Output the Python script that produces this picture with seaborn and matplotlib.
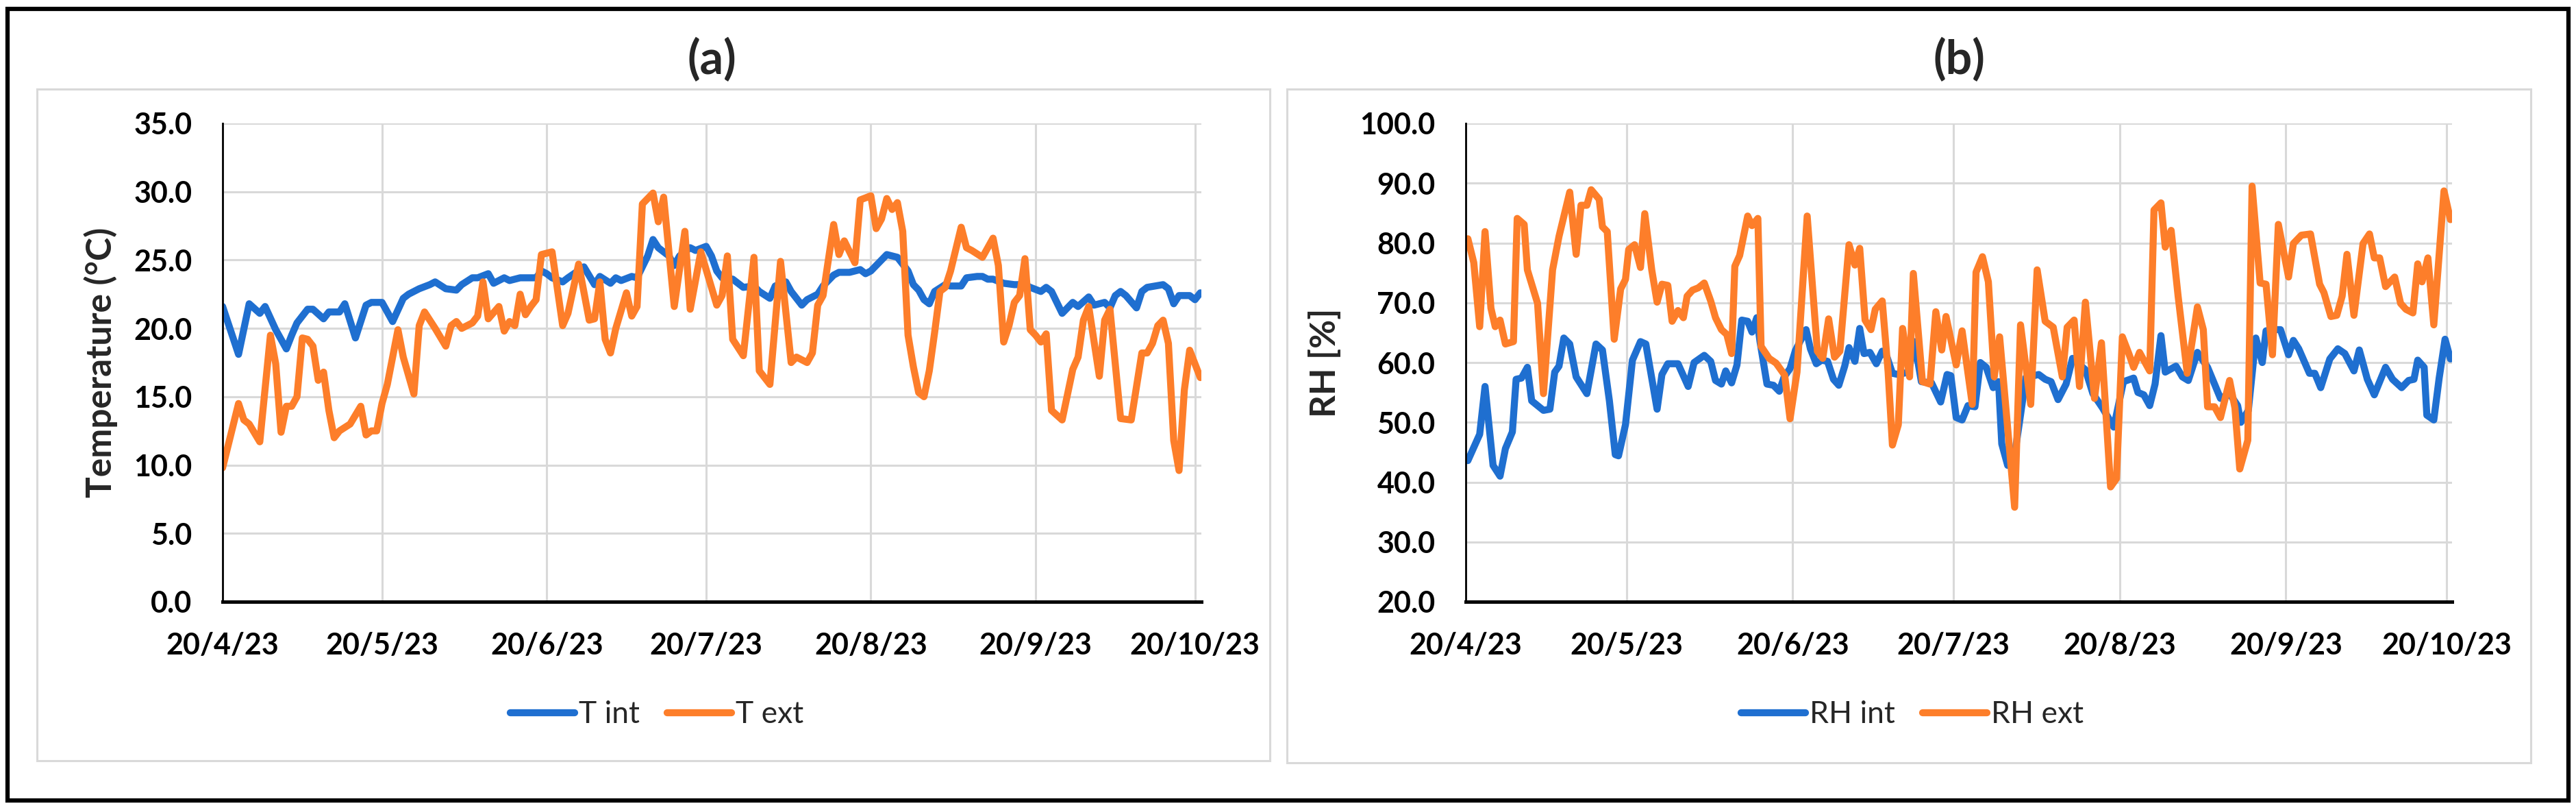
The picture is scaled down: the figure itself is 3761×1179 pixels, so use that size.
import numpy as np
import pandas as pd
import matplotlib
matplotlib.use("Agg")
import matplotlib.pyplot as plt
import seaborn as sns
from matplotlib.patches import Rectangle
from matplotlib.lines import Line2D

# Datos (día = días desde 20/4/23)
fecha_inicio = "20/4/23"
etiquetas_x = ["20/4/23", "20/5/23", "20/6/23", "20/7/23", "20/8/23", "20/9/23", "20/10/23"]

t_int_dia = [0, 3, 5, 7, 8, 10, 12, 13, 14, 16, 17, 19, 20, 22, 23, 25, 27, 28, 30, 32,
             34, 35, 37, 39, 40, 42, 44, 45, 47, 48, 50, 51, 53, 54, 56, 57, 59, 60, 61, 62,
             64, 65, 68, 70, 71, 73, 74, 75, 77, 78, 80, 81, 82, 84, 85, 86, 88, 89, 91, 92,
             93, 94, 96, 98, 100, 101, 103, 104, 106, 107, 109, 110, 112, 113, 115, 116, 118, 120, 121, 122,
             123, 125, 126, 127, 129, 130, 131, 132, 133, 134, 136, 137, 139, 140, 142, 143, 144, 145, 147, 149,
             151, 152, 154, 155, 156, 158, 160, 161, 163, 164, 166, 167, 168, 169, 170, 172, 173, 174, 177, 178,
             179, 180, 182, 183, 184]
t_int = [21.6, 18.1, 21.8, 21.1, 21.6, 19.9, 18.5, 19.5, 20.4, 21.4, 21.4, 20.7, 21.2, 21.2, 21.8, 19.3, 21.7, 21.9, 21.9, 20.5,
         22.2, 22.5, 22.9, 23.2, 23.4, 22.9, 22.8, 23.2, 23.7, 23.7, 24.0, 23.3, 23.7, 23.5, 23.7, 23.7, 23.7, 24.2, 24.0, 23.7,
         23.4, 23.7, 24.5, 23.2, 23.8, 23.3, 23.7, 23.5, 23.8, 23.7, 25.3, 26.5, 25.9, 25.3, 24.6, 25.3, 25.9, 25.7, 26.0, 25.3,
         24.2, 23.7, 23.6, 23.0, 23.1, 22.7, 22.2, 23.1, 23.4, 22.7, 21.7, 22.1, 22.5, 23.1, 23.9, 24.1, 24.1, 24.3, 24.0, 24.2,
         24.6, 25.4, 25.3, 25.2, 24.2, 23.2, 22.8, 22.1, 21.8, 22.7, 23.2, 23.1, 23.1, 23.7, 23.8, 23.8, 23.6, 23.6, 23.3, 23.2,
         23.2, 23.0, 22.7, 23.0, 22.7, 21.1, 21.9, 21.6, 22.3, 21.7, 21.9, 21.5, 22.4, 22.7, 22.4, 21.5, 22.7, 23.0, 23.2, 22.9,
         21.8, 22.4, 22.4, 22.1, 22.6]

t_ext_dia = [0, 3, 4, 5, 7, 9, 10, 11, 12, 13, 14, 15, 16, 17, 18, 19, 20, 21, 22, 24,
             26, 27, 28, 29, 30, 31, 33, 34, 36, 37, 38, 40, 42, 43, 44, 45, 47, 48, 49, 50,
             52, 53, 54, 55, 56, 57, 58, 59, 60, 62, 64, 65, 67, 69, 70, 71, 72, 73, 74, 76,
             77, 78, 79, 81, 82, 83, 85, 87, 88, 90, 93, 94, 95, 96, 98, 100, 101, 103, 105, 107,
             108, 110, 111, 112, 113, 115, 116, 117, 119, 120, 122, 123, 124, 125, 126, 127, 128, 129, 130, 131,
             132, 133, 134, 135, 136, 137, 139, 140, 141, 143, 145, 146, 147, 148, 149, 150, 151, 152, 153, 154,
             155, 156, 158, 160, 161, 162, 163, 165, 166, 167, 169, 171, 173, 174, 175, 176, 177, 178, 179, 180,
             181, 182, 183, 184]
t_ext = [9.8, 14.5, 13.3, 13.0, 11.7, 19.5, 17.4, 12.4, 14.3, 14.3, 15.0, 19.3, 19.2, 18.7, 16.2, 16.8, 14.0, 12.0, 12.5, 13.0,
         14.3, 12.2, 12.5, 12.5, 14.5, 15.9, 19.9, 17.9, 15.2, 20.2, 21.2, 20.0, 18.7, 20.2, 20.5, 20.0, 20.4, 20.9, 23.4, 20.7,
         21.6, 19.8, 20.5, 20.2, 22.5, 21.0, 21.6, 22.1, 25.4, 25.6, 20.2, 21.1, 24.7, 20.6, 20.7, 23.4, 19.2, 18.2, 20.0, 22.6,
         20.9, 21.6, 29.1, 29.9, 27.8, 29.6, 21.6, 27.1, 21.4, 25.6, 21.7, 22.4, 25.3, 19.2, 18.0, 25.2, 16.9, 15.9, 24.9, 17.5,
         17.9, 17.5, 18.2, 21.7, 22.4, 27.6, 25.4, 26.4, 24.8, 29.4, 29.7, 27.3, 28.0, 29.5, 28.7, 29.2, 27.1, 19.5, 17.2, 15.3,
         15.0, 16.9, 19.7, 22.7, 23.0, 24.2, 27.4, 25.9, 25.7, 25.2, 26.6, 24.6, 19.0, 20.2, 21.9, 22.4, 25.1, 19.9, 19.5, 19.0,
         19.6, 14.0, 13.3, 17.0, 17.9, 20.6, 21.6, 16.5, 20.6, 21.4, 13.4, 13.3, 18.2, 18.2, 18.9, 20.2, 20.6, 18.9, 11.8, 9.6,
         15.5, 18.4, 17.4, 16.4]

rh_int_dia = [0.4, 2.6, 3.6, 5.1, 6.4, 7.4, 8.7, 9.4, 10.4, 11.5, 12.3, 14.5, 15.7, 16.6, 17.4, 18.3, 19.4, 20.6, 22.6, 24.3,
              25.5, 26.8, 27.9, 28.5, 29.8, 31.1, 32.6, 33.6, 35.7, 36.6, 37.7, 39.6, 41.5, 42.6, 44.5, 45.7, 46.6, 47.7, 48.5, 49.6,
              50.6, 51.5, 52.6, 53.4, 54.3, 54.9, 56.2, 57.4, 58.5, 59.4, 60.5, 61.5, 63.5, 64.3, 65.4, 66.4, 67.5, 68.6, 69.6, 70.7,
              71.5, 72.6, 73.5, 74.3, 75.4, 76.6, 77.7, 78.6, 79.6, 80.7, 82.6, 83.7, 85.0, 86.9, 88.6, 89.8, 90.5, 91.5, 92.6, 93.7,
              95.0, 96.0, 97.1, 98.4, 99.4, 100.0, 101.1, 102.3, 103.3, 104.5, 106.9, 108.1, 109.2, 110.5, 112.0, 113.2, 115.6, 117.0, 118.8, 120.9,
              122.7, 124.6, 125.4, 126.5, 127.6, 128.6, 129.7, 130.5, 132.5, 133.7, 134.8, 136.5, 138.4, 140.8, 142.5, 144.0, 144.6, 146.0, 147.4, 148.6,
              149.3, 150.3, 152.0, 153.5, 154.4, 155.4, 157.4, 158.4, 159.5, 161.2, 162.7, 164.0, 165.7, 166.7, 168.2, 169.5, 171.6, 172.9, 174.6, 175.9,
              176.9, 177.6, 178.8, 179.3, 180.6, 181.6, 182.7, 183.7]
rh_int = [43.6, 48.0, 56.0, 42.8, 41.0, 45.6, 48.4, 57.2, 57.4, 59.2, 53.6, 52.0, 52.2, 58.4, 59.4, 64.1, 63.1, 57.6, 54.8, 63.1,
          62.1, 53.6, 44.6, 44.4, 49.6, 60.4, 63.5, 63.1, 52.2, 58.0, 59.8, 59.8, 56.0, 60.0, 61.2, 60.2, 57.0, 56.4, 58.6, 56.6,
          59.6, 67.1, 66.9, 65.1, 67.5, 63.5, 56.4, 56.2, 55.2, 57.6, 59.0, 62.0, 65.5, 62.3, 59.8, 60.4, 60.2, 57.2, 56.2, 59.4,
          62.5, 60.2, 65.7, 61.5, 61.7, 59.8, 61.9, 60.9, 58.2, 58.0, 58.4, 63.5, 56.8, 56.6, 53.4, 58.0, 57.8, 50.8, 50.4, 52.8,
          52.6, 60.0, 59.2, 55.8, 56.8, 46.4, 42.8, 44.0, 50.0, 57.5, 58.0, 57.2, 56.8, 53.8, 56.4, 60.7, 58.8, 54.8, 52.4, 49.2,
          56.8, 57.4, 55.0, 54.6, 52.8, 56.4, 64.5, 58.4, 59.4, 57.6, 57.0, 61.7, 59.2, 54.0, 54.8, 52.8, 50.0, 52.0, 64.1, 60.0,
          65.3, 65.5, 65.5, 61.3, 63.7, 62.3, 58.2, 58.2, 55.8, 60.6, 62.3, 61.5, 58.6, 62.1, 57.2, 54.6, 59.2, 57.2, 55.8, 57.0,
          57.2, 60.4, 59.2, 51.2, 50.4, 57.4, 63.9, 60.6]

rh_ext_dia = [0.4, 1.5, 2.6, 3.6, 4.7, 5.5, 6.4, 7.4, 8.9, 9.6, 10.9, 11.5, 13.4, 14.5, 16.2, 17.4, 19.4, 20.6, 21.5, 22.6,
              23.4, 24.9, 25.5, 26.4, 27.7, 28.9, 29.8, 30.4, 31.5, 32.6, 33.4, 34.7, 35.7, 36.6, 37.7, 38.5, 39.6, 40.6, 41.3, 42.3,
              43.4, 44.5, 45.7, 46.6, 47.7, 48.7, 49.6, 50.2, 51.1, 52.6, 53.4, 54.5, 55.1, 56.6, 57.9, 59.5, 60.5, 61.8, 63.7, 65.6,
              66.6, 67.7, 68.8, 69.8, 71.5, 72.6, 73.5, 74.5, 75.6, 76.4, 77.7, 78.8, 79.6, 80.7, 81.5, 82.8, 83.5, 85.2, 86.6, 87.7,
              88.8, 89.6, 91.5, 92.6, 94.5, 95.2, 96.4, 97.5, 98.6, 99.6, 102.4, 103.5, 105.4, 106.6, 108.1, 109.6, 111.3, 112.2, 113.5, 114.5,
              115.6, 117.3, 118.6, 120.3, 121.4, 122.5, 123.7, 124.6, 125.7, 127.6, 128.4, 129.7, 130.5, 131.6, 132.9, 134.6, 136.5, 137.6, 138.4, 139.7,
              140.8, 142.5, 143.5, 144.4, 145.9, 146.7, 148.2, 149.3, 150.5, 151.6, 153.5, 154.4, 155.9, 157.6, 159.3, 160.1, 161.4, 162.5, 163.5, 164.4,
              165.7, 167.4, 168.6, 169.5, 170.5, 171.6, 173.3, 174.4, 175.4, 176.7, 177.6, 178.4, 179.5, 180.6, 182.5, 183.7]
rh_ext = [80.7, 76.7, 66.0, 81.9, 69.1, 66.0, 67.1, 63.1, 63.5, 84.1, 83.1, 75.5, 69.9, 54.8, 75.5, 81.1, 88.5, 78.1, 86.3, 86.3,
          88.9, 87.3, 82.7, 81.9, 63.9, 72.3, 73.9, 78.9, 79.7, 75.9, 84.9, 75.5, 70.1, 73.1, 72.9, 66.9, 68.7, 67.5, 71.1, 72.1,
          72.5, 73.3, 70.3, 67.5, 65.5, 64.7, 61.5, 76.1, 77.9, 84.5, 82.9, 84.1, 62.7, 60.7, 59.9, 57.9, 50.6, 58.4, 84.5, 61.9,
          60.7, 67.3, 60.9, 61.9, 79.7, 76.3, 79.1, 67.1, 65.5, 68.9, 70.3, 58.4, 46.2, 49.6, 65.7, 57.6, 74.9, 56.8, 56.4, 68.5,
          62.1, 67.7, 59.6, 65.3, 53.0, 75.1, 77.7, 73.5, 57.6, 64.3, 35.8, 66.3, 53.0, 75.5, 66.9, 65.9, 57.6, 65.9, 67.1, 56.0,
          70.1, 54.0, 63.3, 39.2, 40.6, 64.3, 61.5, 59.2, 61.7, 58.6, 85.5, 86.7, 79.3, 82.1, 71.1, 58.2, 69.3, 65.5, 52.6, 52.6,
          50.8, 57.0, 52.4, 42.2, 47.0, 89.5, 73.3, 73.1, 61.3, 83.1, 74.3, 79.9, 81.3, 81.5, 73.1, 71.7, 67.7, 67.9, 71.1, 78.1,
          67.9, 79.9, 81.5, 77.5, 77.5, 72.7, 74.3, 69.9, 68.9, 68.3, 76.5, 73.5, 77.5, 66.3, 88.7, 83.9]

AZUL = "#1f6fd0"
NARANJA = "#fd7e2a"
GRIS = "#d9d9d9"
W, H = 3762, 1179  # tamaño de salida en píxeles


def serie(dias, valores, nombre):
    return pd.DataFrame({"dia": dias, "valor": valores, "serie": nombre})


def px(x, y):
    # coordenadas de píxel (origen arriba a la izquierda) -> fracción de figura
    return x / W, 1 - y / H


sns.set_style("white")
plt.rcParams["font.family"] = ["Lato", "DejaVu Sans"]

inicio = pd.to_datetime(fecha_inicio, format="%d/%m/%y")
pos_x = (pd.to_datetime(etiquetas_x, format="%d/%m/%y") - inicio).days

fig = plt.figure(figsize=(W / 100, H / 100), dpi=100, facecolor="white")

# ejes: [izq, abajo, ancho, alto] a partir de los píxeles medidos
x0, y0 = px(325, 878)
ax_t = fig.add_axes([x0, y0, 1429 / W, 698 / H])
x0, y0 = px(2140, 878)
ax_rh = fig.add_axes([x0, y0, 1440 / W, 698 / H])

df_t = pd.concat([serie(t_int_dia, t_int, "T int"), serie(t_ext_dia, t_ext, "T ext")])
df_rh = pd.concat([serie(rh_int_dia, rh_int, "RH int"), serie(rh_ext_dia, rh_ext, "RH ext")])


def dibujar(ax, df, nombres, xmax, ylim, paso, ylabel, ylabel_x, titulo, leyenda_x):
    sns.lineplot(data=df, x="dia", y="valor", hue="serie", hue_order=nombres,
                 palette=[AZUL, NARANJA], linewidth=7.4, estimator=None,
                 legend=False, ax=ax, solid_joinstyle="round", solid_capstyle="round")

    ax.set_xlim(0, xmax)
    ax.set_ylim(*ylim)
    yt = np.arange(ylim[0], ylim[1] + 0.1, paso)
    ax.set_yticks(yt)
    ax.set_yticklabels([f"{v:.1f}" for v in yt], fontsize=31, fontweight="bold")
    ax.set_xticks(pos_x)
    ax.set_xticklabels(etiquetas_x, fontsize=31, fontweight="bold")
    ax.tick_params(length=0, pad=32, colors="black")

    ax.grid(True, color=GRIS, linewidth=2.2)
    ax.set_axisbelow(True)
    for lado in ["top", "right"]:
        ax.spines[lado].set_visible(False)
    ax.spines["left"].set_color("black")
    ax.spines["left"].set_linewidth(2.0)
    ax.spines["bottom"].set_color("black")
    ax.spines["bottom"].set_linewidth(3.6)

    ax.set_xlabel("")
    ax.set_ylabel(ylabel, fontsize=37, fontweight="bold")
    ax.yaxis.set_label_coords(ylabel_x, 0.5)

    ax.text(0.5, 1.132, titulo, transform=ax.transAxes, ha="center", va="center",
            fontsize=49, fontweight="bold")

    handles = [Line2D([], [], color=c, linewidth=7.4, solid_capstyle="round") for c in [AZUL, NARANJA]]
    ax.legend(handles, nombres, loc="center", bbox_to_anchor=(leyenda_x, -0.236), ncol=2,
              frameon=False, fontsize=32, handlelength=2.1, handletextpad=0.15,
              columnspacing=0.9)


dibujar(ax_t, df_t, ["T int", "T ext"], 184.2, (0, 35), 5, "Temperature (°C)", -0.107, "(a)", 0.444)
dibujar(ax_rh, df_rh, ["RH int", "RH ext"], 184.0, (20, 100), 10, "RH [%]", -0.126, "(b)", 0.453)

# recuadros grises de cada panel y marco negro exterior
for (xa, ya, xb, yb) in [(54, 130, 1854, 1110), (1879, 130, 3695, 1113)]:
    fx, fy = px(xa, yb)
    fig.add_artist(Rectangle((fx, fy), (xb - xa) / W, (yb - ya) / H, transform=fig.transFigure,
                             fill=False, edgecolor=GRIS, linewidth=2.2))
fx, fy = px(11, 1168)
fig.add_artist(Rectangle((fx, fy), (3750 - 11) / W, (1168 - 13) / H, transform=fig.transFigure,
                         fill=False, edgecolor="black", linewidth=4.5))

fig.savefig("out.png", dpi=100, facecolor="white")
